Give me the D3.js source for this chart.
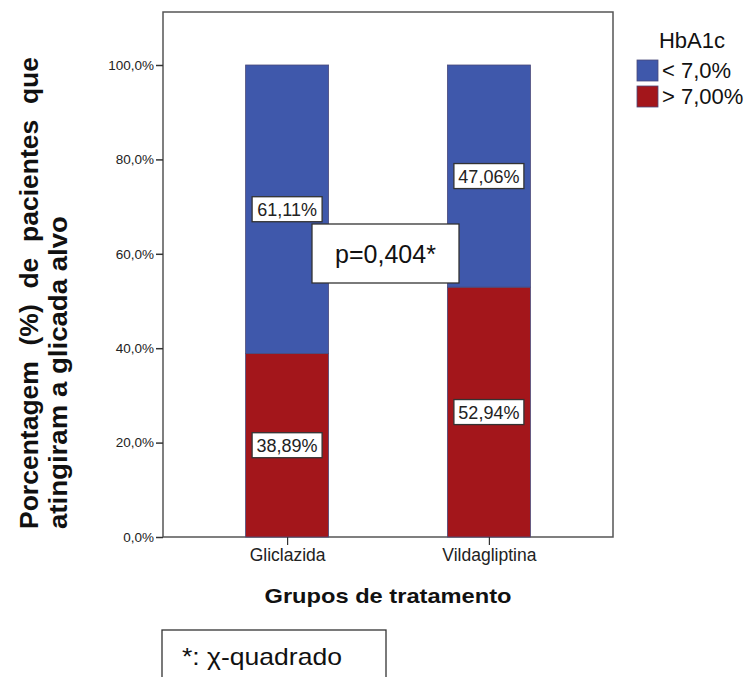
<!DOCTYPE html>
<html>
<head>
<meta charset="utf-8">
<script src="https://cdn.jsdelivr.net/npm/d3@7/dist/d3.min.js"></script>
<style>
  html, body { margin: 0; padding: 0; background: #fff; }
  svg text { font-family: "Liberation Sans", Arial, sans-serif; }
</style>
</head>
<body>
<svg id="chart" width="752" height="677"></svg>
<script>
// ---- data ----
const categories = ["Gliclazida", "Vildagliptina"];
const seriesNames = ["< 7,0%", "> 7,00%"];
const below7 = [61.11, 47.06];
const above7 = [38.89, 52.94];
const yTicks = [0, 20, 40, 60, 80, 100];
const pLabel = "p=0,404*";
const footnote = "*: \u03C7-quadrado";
const legendTitle = "HbA1c";
const xTitle = "Grupos de tratamento";
const yTitleLines = ["Porcentagem (%) de pacientes que", "atingiram a glicada alvo"];

const colors = ["#3f58ab", "#a3161b"];

const svg = d3.select("#chart");
const frame = { left: 163, top: 12, right: 613, bottom: 537 };

const y = d3.scaleLinear().domain([0, 100]).range([537, 65]);
const x = d3.scalePoint().domain(categories).range([frame.left, frame.right]).padding(0.615);
const barW = 83;

// stacked data: red on bottom, blue on top
const stackRows = categories.map((c, i) => ({ cat: c, above: above7[i], below: below7[i] }));
const stack = d3.stack().keys(["above", "below"])(stackRows);
const stackColors = { above: colors[1], below: colors[0] };

// frame
svg.append("rect")
  .attr("x", frame.left).attr("y", frame.top)
  .attr("width", frame.right - frame.left).attr("height", frame.bottom - frame.top)
  .attr("fill", "none").attr("stroke", "#555").attr("stroke-width", 1.5);

// bars
stack.forEach(layer => {
  svg.append("g").selectAll("rect").data(layer).join("rect")
    .attr("x", d => x(d.data.cat) - barW / 2)
    .attr("y", d => y(d[1]))
    .attr("width", barW)
    .attr("height", d => y(d[0]) - y(d[1]))
    .attr("fill", stackColors[layer.key])
    .attr("stroke", "#4a4a7a").attr("stroke-width", 0.8);
});

// y axis
const yAxis = d3.axisLeft(y).tickValues(yTicks).tickSize(7).tickPadding(2)
  .tickFormat(d => d.toFixed(1).replace(".", ",") + "%");
const gy = svg.append("g").attr("transform", `translate(${frame.left},0)`).call(yAxis);
gy.select(".domain").remove();
gy.selectAll(".tick line").attr("stroke", "#333").attr("stroke-width", 1.5);
gy.selectAll(".tick text").attr("font-size", 13.5).attr("fill", "#222")
  .attr("font-family", "Liberation Sans, Arial, sans-serif");

// x axis
const xAxis = d3.axisBottom(x).tickSize(8).tickPadding(4);
const gx = svg.append("g").attr("transform", `translate(0,${frame.bottom})`).call(xAxis);
gx.select(".domain").remove();
gx.selectAll(".tick line").attr("stroke", "#333").attr("stroke-width", 1.2);
gx.selectAll(".tick text").attr("font-size", 17.5).attr("fill", "#222")
  .attr("font-family", "Liberation Sans, Arial, sans-serif");

// value labels
function labelBox(cx, cy, text) {
  const g = svg.append("g");
  g.append("text").attr("x", cx).attr("y", cy + 6.5)
    .attr("text-anchor", "middle").attr("font-size", 18).attr("fill", "#222").text(text);
  const w = 70, h = 25;
  g.insert("rect", "text").attr("x", cx - w / 2).attr("y", cy - h / 2)
    .attr("width", w).attr("height", h)
    .attr("fill", "#fff").attr("stroke", "#333").attr("stroke-width", 1.3);
}
stack.forEach(layer => {
  layer.forEach(d => {
    const v = d[1] - d[0];
    labelBox(x(d.data.cat), (y(d[0]) + y(d[1])) / 2, v.toFixed(2).replace(".", ",") + "%");
  });
});

// p-value box
const pcx = 385.5, pcy = 253.5;
svg.append("rect").attr("x", pcx - 73.5).attr("y", pcy - 29.5).attr("width", 147).attr("height", 59)
  .attr("fill", "#fff").attr("stroke", "#333").attr("stroke-width", 1.3);
svg.append("text").attr("x", pcx).attr("y", pcy + 9).attr("text-anchor", "middle")
  .attr("font-size", 25).attr("fill", "#111").text(pLabel);

// x title
svg.append("text").attr("x", 388).attr("y", 603).attr("text-anchor", "middle")
  .attr("font-size", 21).attr("font-weight", "bold").attr("fill", "#111")
  .attr("textLength", 247).attr("lengthAdjust", "spacingAndGlyphs").text(xTitle);

// y title (two lines, first justified)
const yt1 = svg.append("text").attr("transform", "translate(38,529) rotate(-90)")
  .attr("font-size", 26.5).attr("font-weight", "bold").attr("fill", "#111").text(yTitleLines[0]);
const natural = yt1.node().getComputedTextLength();
const nSpaces = yTitleLines[0].split(" ").length - 1;
yt1.attr("word-spacing", Math.max(0, (472 - natural) / nSpaces));
svg.append("text").attr("transform", "translate(67,529) rotate(-90)")
  .attr("font-size", 26.5).attr("font-weight", "bold").attr("fill", "#111")
  .attr("textLength", 313).attr("lengthAdjust", "spacingAndGlyphs").text(yTitleLines[1]);

// legend
svg.append("text").attr("x", 692).attr("y", 48).attr("text-anchor", "middle")
  .attr("font-size", 22).attr("fill", "#111").text(legendTitle);
const leg = svg.append("g").selectAll("g").data(seriesNames).join("g")
  .attr("transform", (d, i) => `translate(637,${60 + i * 26})`);
leg.append("rect").attr("width", 21).attr("height", 21)
  .attr("fill", (d, i) => colors[i]).attr("stroke", "#4a4a7a").attr("stroke-width", 0.8);
leg.append("text").attr("x", 25).attr("y", 18).attr("font-size", 22).attr("fill", "#111").text(d => d);

// footnote box
svg.append("rect").attr("x", 162).attr("y", 630).attr("width", 224).attr("height", 60)
  .attr("fill", "#fff").attr("stroke", "#333").attr("stroke-width", 1.3);
svg.append("text").attr("x", 182).attr("y", 665).attr("font-size", 24).attr("fill", "#111")
  .attr("textLength", 160).attr("lengthAdjust", "spacingAndGlyphs").text(footnote);
</script>
</body>
</html>
